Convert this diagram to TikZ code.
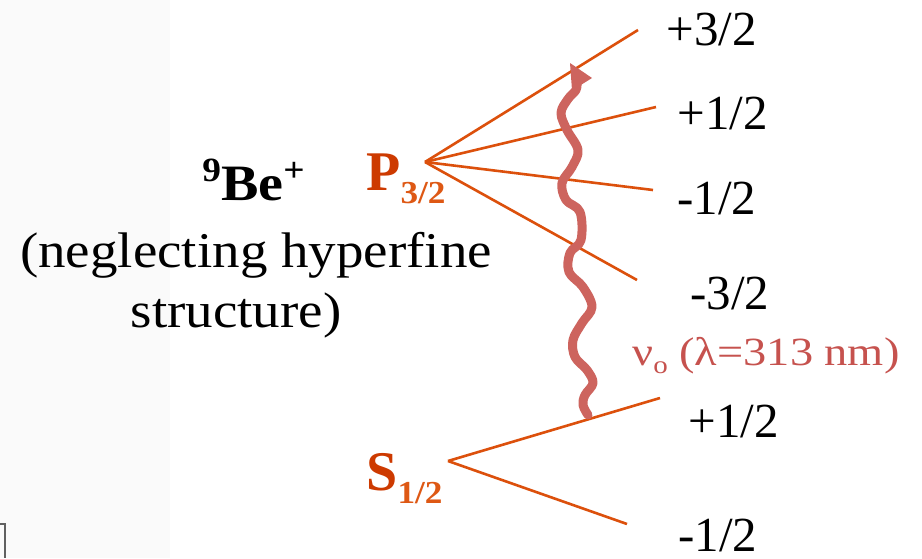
\documentclass[tikz,border=0pt]{standalone}
\usepackage{fontspec}
\setmainfont{Liberation Serif}
\newfontfamily\widefont{Liberation Serif}[FakeStretch=1.1]
\newfontfamily\widerfont{Liberation Serif}[FakeStretch=1.16]
\definecolor{lvl}{RGB}{220,80,12}
\definecolor{lvllbl}{RGB}{205,58,0}
\definecolor{sublbl}{RGB}{222,88,20}
\definecolor{wave}{RGB}{205,100,94}
\definecolor{wavetxt}{RGB}{198,82,78}
\definecolor{panel}{RGB}{250,250,250}
\begin{document}
\begin{tikzpicture}[x=0.5pt,y=-0.5pt,
  level/.style={draw=lvl,line width=1.3pt},
  mlabel/.style={anchor=base west,inner sep=0pt,font=\fontsize{24.5}{28}\selectfont},
  termlbl/.style={anchor=base west,inner sep=0pt,text=lvllbl,font=\fontsize{28}{30}\selectfont\bfseries},
  lefttext/.style={anchor=base,inner sep=0pt,font=\widefont\fontsize{25}{28}\selectfont}]
\useasboundingbox (0,0) rectangle (922,558);
\fill[panel] (0,0) rectangle (170,558);
\fill[white] (170,0) rectangle (922,558);
\draw[draw={rgb,255:red,96;green,96;blue,96},line width=1pt] (0,524) -- (5,524) -- (5,558);

% left texts
\node[anchor=base west,inner sep=0pt,font=\widefont\fontsize{25.5}{28}\selectfont\bfseries] (ion) at (202,200) {\raisebox{0.36em}{\fontsize{17}{18}\selectfont 9}Be\raisebox{0.36em}{\fontsize{17}{18}\selectfont +}};
\node[lefttext] (neg) at (256,267) {(neglecting hyperfine};
\node[lefttext] (str) at (236,327) {structure)};

% term labels
\node[termlbl] (P) at (366,190) {P\raisebox{-0.24em}{\widefont\fontsize{16}{18}\selectfont\color{sublbl}3/2}};
\node[termlbl] (S) at (366,490) {S\raisebox{-0.24em}{\widefont\fontsize{16}{18}\selectfont\color{sublbl}1/2}};

% vertices
\coordinate (pv) at (425,162);
\coordinate (sv) at (448,461);
\coordinate (p1) at (638,30);
\coordinate (p2) at (656,107);
\coordinate (p3) at (653,190);
\coordinate (p4) at (637,280);
\coordinate (s1) at (660,398);
\coordinate (s2) at (627,524);
\draw[level] (pv) -- (p1);
\draw[level] (pv) -- (p2);
\draw[level] (pv) -- (p3);
\draw[level] (pv) -- (p4);
\draw[level] (sv) -- (s1);
\draw[level] (sv) -- (s2);

% sublevel labels
\node[mlabel] (m1) at (666,45) {+3/2};
\node[mlabel] (m2) at (677,129) {+1/2};
\node[mlabel] (m3) at (677,214) {-1/2};
\node[mlabel] (m4) at (690,309) {-3/2};
\node[mlabel] (m5) at (688,437) {+1/2};
\node[mlabel] (m6) at (678,551) {-1/2};

% wavy photon
\draw[wave,line width=4.5pt,line cap=round,line join=round] plot[smooth,tension=0.6] coordinates {
 (588,415) (583,405) (585,395) (593,383) (587,370) (575,357) (573,340) (582,323) (592,307) (583,287)
 (569,272) (570,253) (581,240) (580,212) (566,200) (562,183) (572,167) (578,150) (567,130) (561,113)
 (568,99) (576,90) (577,82)};
\fill[wave] (570,63) -- (592,78) -- (576,88) -- (572,90) -- cycle;
\node[anchor=base west,inner sep=0pt,text=wavetxt,font=\widerfont\fontsize{20}{22}\selectfont] (nu) at (632,365) {ν\raisebox{-0.22em}{\fontsize{12.5}{14}\selectfont o} (λ=313 nm)};
\end{tikzpicture}
\end{document}
